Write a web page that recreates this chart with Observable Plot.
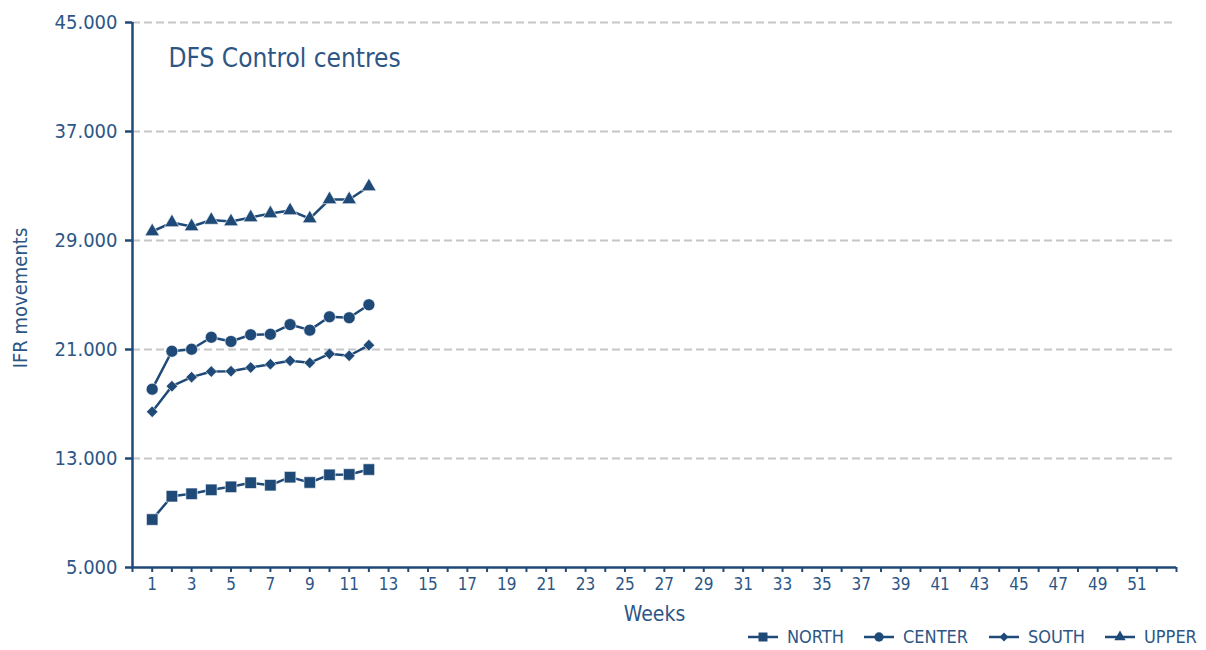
<!DOCTYPE html>
<html><head><meta charset="utf-8">
<script src="https://cdn.jsdelivr.net/npm/d3@7"></script>
<script src="https://cdn.jsdelivr.net/npm/@observablehq/plot@0.6"></script>
<style>
body{margin:0;background:#fff;}
#wrap{position:relative;width:1206px;height:650px;font-family:"Liberation Sans Narrow","DejaVu Sans Condensed","Roboto Condensed",sans-serif;}
#legend{position:absolute;left:0;top:0;}
</style></head>
<body><div id="wrap"></div>
<script>
const weeks = [1,2,3,4,5,6,7,8,9,10,11,12];
const north  = [8520,10230,10410,10700,10920,11220,11040,11630,11240,11800,11830,12190];
const center = [18090,20870,21020,21900,21590,22080,22120,22830,22420,23400,23330,24280];
const south  = [16430,18310,18970,19380,19410,19680,19920,20170,20020,20680,20540,21320];
const upper  = [29660,30320,30030,30500,30390,30690,30980,31200,30610,32010,32010,32960];
const seriesNames = ["NORTH","CENTER","SOUTH","UPPER"];
const seriesSymbols = ["square","circle","diamond2","triangle"];
const seriesR = [6.5,6,5.2,5.4];
const yTicks = [5000,13000,21000,29000,37000,45000];
const xTickMarks = [0,1,2,3,4,5,6,7,8,9,10,11,12,13,14,15,16,17,18,19,20,21,22,23,24,25,26,27,28,29,30,31,32,33,34,35,36,37,38,39,40,41,42,43,44,45,46,47,48,49,50,51,52,53];
const xTickLabels = [1,3,5,7,9,11,13,15,17,19,21,23,25,27,29,31,33,35,37,39,41,43,45,47,49,51];
const title = "DFS Control centres";

const navy = "#1f4a78";
const textCol = "#2d5685";
const seriesVals = [north, center, south, upper];
const data = [];
seriesNames.forEach((s,i)=>weeks.forEach((w,j)=>data.push({series:s, week:w, value:seriesVals[i][j]})));
const fmt = d => d3.format(",")(d).replace(/,/g, ".");

const marks = [
  Plot.ruleY(yTicks.filter(d=>d!==5000), {stroke:"#c6c6c6", strokeWidth:2, strokeDasharray:"8,4"}),
  Plot.axisY({ticks:yTicks, tickFormat:fmt, tickSize:7, tickPadding:8, stroke:navy, strokeWidth:2.5, fill:textCol, fontSize:20, label:null}),
  Plot.axisX({ticks:xTickMarks, tickFormat:()=>"", tickSize:5, stroke:navy, strokeWidth:2, label:null}),
  Plot.axisX({ticks:xTickLabels, tickFormat:d=>d, tickSize:0, tickPadding:10, fill:textCol, fontSize:17, label:null}),
  Plot.ruleX([0], {stroke:navy, strokeWidth:2.5}),
  Plot.ruleY([5000], {stroke:navy, strokeWidth:2.5}),
  Plot.line(data, {x:"week", y:"value", z:"series", stroke:navy, strokeWidth:2.5}),
];
seriesNames.forEach((s,i)=>{
  marks.push(Plot.dot(data.filter(d=>d.series===s), {x:"week", y:"value", symbol:()=>seriesSymbols[i], r:seriesR[i], fill:navy, stroke:"#ffffff", strokeWidth:0.6}));
});
marks.push(Plot.text([title], {frameAnchor:"top-left", textAnchor:"start", lineAnchor:"middle", dx:36, dy:36, fontSize:26, fill:textCol}));
marks.push(Plot.text(["IFR movements"], {frameAnchor:"left", textAnchor:"middle", lineAnchor:"middle", rotate:-90, dx:-112, dy:3, fontSize:20, fill:textCol}));
marks.push(Plot.text(["Weeks"], {frameAnchor:"bottom", textAnchor:"middle", dy:53, fontSize:21, fill:textCol}));

const chart = Plot.plot({
  width:1206, height:650,
  marginLeft:132, marginRight:30, marginTop:22, marginBottom:83,
  x:{type:"linear", domain:[0,53]},
  y:{domain:[5000,45000]},
  symbol:{type:"identity"},
  style:{fontFamily:'"Liberation Sans Narrow","DejaVu Sans Condensed","Roboto Condensed",sans-serif', background:"#fff"},
  marks
});
document.getElementById("wrap").appendChild(chart);

// legend
const legX = [748, 864, 989, 1105];
const lg = d3.select("#wrap").append("svg").attr("id","legend").attr("width",1206).attr("height",650);
const symMap = {square:d3.symbolSquare, circle:d3.symbolCircle, diamond2:d3.symbolDiamond2, triangle:d3.symbolTriangle};
seriesNames.forEach((s,i)=>{
  const g = lg.append("g").attr("transform",`translate(${legX[i]},637)`);
  g.append("line").attr("x1",0).attr("x2",30).attr("y1",0).attr("y2",0).attr("stroke",navy).attr("stroke-width",2.5);
  const rr = seriesR[i]*0.78;
  g.append("path").attr("transform","translate(15,0)").attr("d", d3.symbol(symMap[seriesSymbols[i]], Math.PI*rr*rr)()).attr("fill",navy);
  g.append("text").attr("x",39).attr("y",0).attr("dy","0.35em").attr("font-size",18).attr("fill",textCol).text(s);
});
</script></body></html>
